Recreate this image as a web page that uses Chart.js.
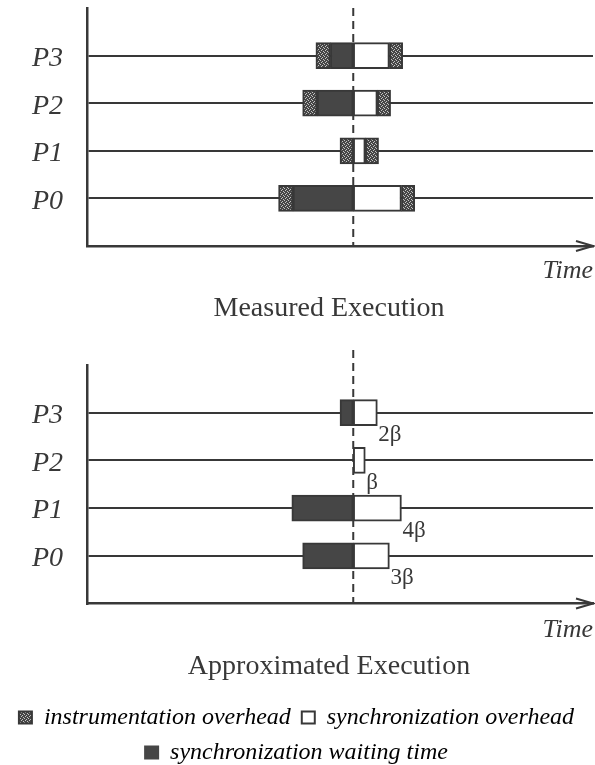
<!DOCTYPE html>
<html>
<head>
<meta charset="utf-8">
<script src="https://cdn.jsdelivr.net/npm/chart.js@4.4.0/dist/chart.umd.min.js"></script>
<style>
  html, body { margin: 0; padding: 0; background: #fff; overflow: hidden; }
  #wrap { position: relative; width: 595px; height: 765px; overflow: hidden; }
  #measuredChart { position: absolute; left: 0; top: 0; }
  #approxChart { position: absolute; left: 0; top: 330px; }
</style>
</head>
<body>
<div id="wrap">
  <canvas id="measuredChart" width="595" height="330"></canvas>
  <canvas id="approxChart" width="595" height="450"></canvas>
</div>
<script>
// time is in units of beta, processes listed top to bottom
const processes = ['P3', 'P2', 'P1', 'P0'];
const syncTime = 22.1;

// measured execution, [start, end] for every process
const measuredInstrBefore  = [[19.0, 20.2], [17.9, 19.1], [21.0, 22.1], [15.9, 17.1]];
const measuredWaiting      = [[20.2, 22.1], [19.1, 22.1], null,         [17.1, 22.1]];
const measuredSyncOverhead = [[22.1, 25.1], [22.1, 24.1], [22.1, 23.1], [22.1, 26.1]];
const measuredInstrAfter   = [[25.1, 26.2], [24.1, 25.2], [23.1, 24.2], [26.1, 27.2]];

// approximated execution
const approxWaiting        = [[21.0, 22.1], null,         [17.0, 22.1], [17.9, 22.1]];
const approxSyncOverhead   = [[22.1, 24.1], [22.1, 23.1], [22.1, 26.1], [22.1, 25.1]];
const approxOverheadLabels = ['2β', 'β', '4β', '3β'];

const legendLabels = ['instrumentation overhead', 'synchronization overhead', 'synchronization waiting time'];

const ink = '#383838';
const dark = '#464646';
const serif = "'Liberation Serif', 'Times New Roman', serif";

// empty rows above and below so the process lines sit like in the figure
const rowLabels = ['', ...processes, ''];
const pad = arr => [null, ...arr, null];

// stipple for the instrumentation overhead
const tile = document.createElement('canvas');
tile.width = 4; tile.height = 4;
const tctx = tile.getContext('2d');
tctx.fillStyle = dark;
tctx.fillRect(0, 0, 4, 4);
tctx.fillStyle = '#c4c4c4';
[[0, 0], [2, 1], [1, 2], [3, 3]].forEach(p => tctx.fillRect(p[0], p[1], 1, 1));
const stipple = tctx.createPattern(tile, 'repeat');

// dashed synchronization line
const syncLine = {
    id: 'syncLine',
    beforeDatasetsDraw(chart, args, opts) {
        const x = chart.scales.x.getPixelForValue(opts.value);
        const area = chart.chartArea;
        const ctx = chart.ctx;
        ctx.save();
        ctx.strokeStyle = ink;
        ctx.lineWidth = 2;
        ctx.setLineDash([8, 5]);
        ctx.beginPath();
        ctx.moveTo(x, area.top - opts.above);
        ctx.lineTo(x, area.bottom);
        ctx.stroke();
        ctx.restore();
    }
};

// arrow head at the end of the time axis
const timeArrow = {
    id: 'timeArrow',
    afterDraw(chart) {
        const area = chart.chartArea;
        const ctx = chart.ctx;
        ctx.save();
        ctx.strokeStyle = ink;
        ctx.lineWidth = 2;
        ctx.beginPath();
        ctx.moveTo(area.right - 17, area.bottom - 5);
        ctx.lineTo(area.right, area.bottom);
        ctx.lineTo(area.right - 17, area.bottom + 5);
        ctx.stroke();
        ctx.restore();
    }
};

// the captions sit a bit left of the plot centre in the figure
const captionShift = {
    id: 'captionShift',
    afterLayout(chart) {
        if (chart.titleBlock) chart.titleBlock.left = 65;
    }
};

// n-beta labels under the synchronization overhead boxes
const betaLabels = {
    id: 'betaLabels',
    afterDatasetsDraw(chart, args, opts) {
        const meta = chart.getDatasetMeta(opts.datasetIndex);
        const ctx = chart.ctx;
        ctx.save();
        ctx.fillStyle = ink;
        ctx.font = '23px ' + serif;
        ctx.textAlign = 'left';
        ctx.textBaseline = 'top';
        meta.data.forEach((bar, i) => {
            const text = opts.labels[i];
            if (!text) return;
            ctx.fillText(text, bar.x + 1, bar.y + bar.height / 2 - 2);
        });
        ctx.restore();
    }
};

function segment(label, data, fill, stroke) {
    return {
        label: label,
        data: pad(data),
        backgroundColor: fill,
        borderColor: stroke,
        borderWidth: 2,
        borderSkipped: false,
        barThickness: 26,
        grouped: false
    };
}

function buildOptions(o) {
    return {
        indexAxis: 'y',
        responsive: false,
        animation: false,
        layout: { padding: { top: o.padTop, bottom: o.padBottom, left: 0, right: 2 } },
        scales: {
            x: {
                type: 'linear',
                min: 0,
                max: 42,
                grid: { display: false },
                ticks: { display: false },
                border: { display: true, color: ink, width: 2.5 },
                title: {
                    display: true,
                    text: 'Time',
                    align: 'end',
                    color: ink,
                    font: { family: serif, size: 26, style: 'italic' },
                    padding: { top: 0, bottom: o.timePad }
                },
                afterFit: s => { s.height = 46.2; }
            },
            y: {
                offset: false,
                grid: {
                    offset: false,
                    drawTicks: false,
                    lineWidth: 2,
                    color: c => (c.index === 0 || c.index === rowLabels.length - 1) ? 'rgba(0,0,0,0)' : ink
                },
                border: { display: true, color: ink, width: 2.5 },
                ticks: {
                    autoSkip: false,
                    color: ink,
                    padding: 24,
                    labelOffset: 3,
                    font: { family: serif, size: 28, style: 'italic' }
                },
                afterFit: s => {
                    s.width = 87;
                    s.paddingTop = 0;
                    s.paddingBottom = 0;
                }
            }
        },
        plugins: {
            tooltip: { enabled: false },
            title: {
                display: true,
                position: 'bottom',
                fullSize: false,
                text: o.title,
                color: ink,
                weight: 500,
                font: { family: serif, size: 28, weight: 'normal' },
                padding: { top: 0, bottom: o.titlePad }
            },
            legend: o.legend,
            syncLine: { value: syncTime, above: o.dashAbove },
            betaLabels: { datasetIndex: 1, labels: pad(approxOverheadLabels) }
        }
    };
}

new Chart(document.getElementById('measuredChart'), {
    type: 'bar',
    data: {
        labels: rowLabels,
        datasets: [
            segment('instrumentation overhead', measuredInstrBefore, stipple, ink),
            segment('synchronization waiting time', measuredWaiting, dark, ink),
            segment('synchronization overhead', measuredSyncOverhead, '#ffffff', ink),
            segment('instrumentation overhead', measuredInstrAfter, stipple, ink)
        ]
    },
    options: buildOptions({
        padTop: 8, padBottom: 4.2, timePad: 5.6, titlePad: 0, dashAbove: 0,
        title: 'Measured Execution',
        legend: { display: false }
    }),
    plugins: [syncLine, timeArrow, captionShift]
});

const legendFills = [stipple, '#ffffff', dark];

new Chart(document.getElementById('approxChart'), {
    type: 'bar',
    data: {
        labels: rowLabels,
        datasets: [
            segment('synchronization waiting time', approxWaiting, dark, ink),
            segment('synchronization overhead', approxSyncOverhead, '#ffffff', ink)
        ]
    },
    options: buildOptions({
        padTop: 35, padBottom: 5.5, timePad: 3.6, titlePad: 11.2, dashAbove: 15,
        title: 'Approximated Execution',
        legend: {
            display: true,
            position: 'bottom',
            labels: {
                color: ink,
                boxWidth: 13,
                boxHeight: 12,
                padding: 11,
                font: { family: serif, size: 24, style: 'italic' },
                generateLabels: () => legendLabels.map((text, i) => ({
                    text: text,
                    fillStyle: legendFills[i],
                    strokeStyle: i === 2 ? dark : ink,
                    lineWidth: 2,
                    hidden: false,
                    datasetIndex: 0
                }))
            }
        }
    }),
    plugins: [syncLine, timeArrow, captionShift, betaLabels]
});
</script>
</body>
</html>
